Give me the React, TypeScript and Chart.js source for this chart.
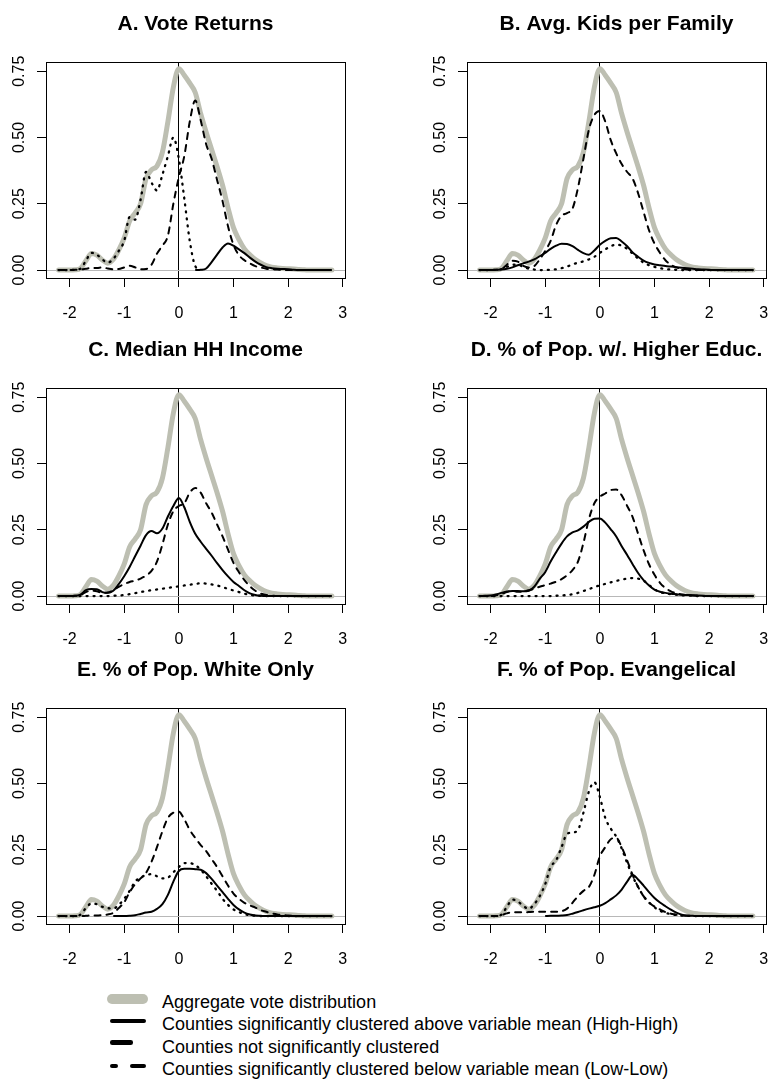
import React, { useEffect, useRef } from "react";
import { Chart, registerables } from "chart.js";

Chart.register(...registerables);

// ---------- data ----------
const X_GRID = [
  -2.2, -2.1, -2.0, -1.9, -1.8, -1.7, -1.6, -1.5, -1.4, -1.3,
  -1.2, -1.1, -1.0, -0.9, -0.8, -0.7, -0.6, -0.5, -0.4, -0.3,
  -0.2, -0.1, 0.0, 0.1, 0.2, 0.3, 0.4, 0.5, 0.6, 0.7,
  0.8, 0.9, 1.0, 1.1, 1.2, 1.3, 1.4, 1.5, 1.6, 1.7,
  1.8, 1.9, 2.0, 2.1, 2.2, 2.3, 2.4, 2.5, 2.6, 2.7,
  2.8,
];

const AGGREGATE = [
  0, 0, 0, 0.001, 0.006, 0.035, 0.062, 0.056, 0.038, 0.026,
  0.04, 0.075, 0.12, 0.185, 0.215, 0.25, 0.345, 0.378, 0.392, 0.445,
  0.56, 0.69, 0.76, 0.735, 0.705, 0.67, 0.59, 0.52, 0.455, 0.39,
  0.32, 0.235, 0.16, 0.115, 0.08, 0.058, 0.04, 0.027, 0.017, 0.011,
  0.008, 0.006, 0.005, 0.004, 0.002, 0.001, 0, 0, 0, 0,
  0,
];

// A. Vote Returns
const A_HIGH = [
  null, null, null, null, null, null, null, null, null, null,
  null, null, null, null, null, null, null, null, null, null,
  null, null, null, null, null, 0, 0.001, 0.006, 0.03, 0.058,
  0.085, 0.1, 0.092, 0.078, 0.064, 0.047, 0.032, 0.02, 0.011, 0.007,
  0.005, 0.004, 0.003, 0.001, 0, 0, 0, 0, 0, 0,
  0,
];
const A_NOT = [
  0, 0, 0, 0.001, 0.002, 0.005, 0.008, 0.008, 0.01, 0.006,
  0.003, 0.004, 0.01, 0.016, 0.01, 0.003, 0.004, 0.02, 0.062, 0.092,
  0.13, 0.25, 0.35, 0.43, 0.56, 0.64, 0.565, 0.475, 0.42, 0.34,
  0.26, 0.165, 0.095, 0.056, 0.037, 0.025, 0.015, 0.01, 0.005, 0.003,
  0.002, 0, 0, 0, 0, 0, 0, 0, 0, 0,
  0,
];
const A_LOW = [
  0, 0, 0, 0.001, 0.005, 0.035, 0.065, 0.058, 0.04, 0.028,
  0.042, 0.072, 0.11, 0.2, 0.19, 0.265, 0.37, 0.33, 0.3, 0.36,
  0.43, 0.5, 0.42, 0.27, 0.11, 0.015, 0, null, null, null,
  null, null, null, null, null, null, null, null, null, null,
  null, null, null, null, null, null, null, null, null, null,
  null,
];

// B. Avg. Kids per Family
const B_HIGH = [
  0, 0, 0, 0.001, 0.002, 0.005, 0.01, 0.018, 0.025, 0.032,
  0.04, 0.052, 0.065, 0.08, 0.092, 0.099, 0.098, 0.09, 0.076, 0.064,
  0.058, 0.074, 0.095, 0.11, 0.12, 0.121, 0.108, 0.09, 0.066, 0.05,
  0.036, 0.027, 0.021, 0.018, 0.015, 0.013, 0.011, 0.009, 0.007, 0.005,
  0.003, 0.002, 0.001, 0, 0, 0, 0, 0, 0, 0,
  0,
];
const B_NOT = [
  0, 0, 0, 0.001, 0.004, 0.02, 0.035, 0.032, 0.016, 0.01,
  0.015, 0.04, 0.072, 0.11, 0.17, 0.205, 0.215, 0.232, 0.31, 0.42,
  0.53, 0.585, 0.6, 0.56, 0.49, 0.44, 0.4, 0.37, 0.345, 0.29,
  0.22, 0.15, 0.1, 0.065, 0.037, 0.02, 0.01, 0.005, 0.002, 0.001,
  0, 0, 0, 0, 0, 0, 0, 0, 0, 0,
  0,
];
const B_LOW = [
  0, 0, 0, 0.001, 0.003, 0.012, 0.02, 0.02, 0.012, 0.005,
  0.002, 0, 0, 0.001, 0.003, 0.007, 0.013, 0.021, 0.028, 0.033,
  0.04, 0.05, 0.065, 0.078, 0.09, 0.096, 0.092, 0.08, 0.062, 0.043,
  0.028, 0.018, 0.012, 0.007, 0.004, 0.002, 0.001, 0, 0, 0,
  0, 0, 0, 0, 0, 0, 0, 0, 0, 0,
  0,
];

// C. Median HH Income
const C_HIGH = [
  0, 0, 0, 0.001, 0.005, 0.022, 0.027, 0.026, 0.015, 0.012,
  0.02, 0.045, 0.075, 0.11, 0.15, 0.19, 0.23, 0.245, 0.237, 0.255,
  0.3, 0.34, 0.37, 0.335, 0.28, 0.235, 0.205, 0.178, 0.152, 0.124,
  0.098, 0.074, 0.053, 0.038, 0.022, 0.01, 0.004, 0.001, 0, 0,
  0, 0, 0, 0, 0, 0, 0, 0, 0, 0,
  0,
];
const C_NOT = [
  0, 0, 0, 0.001, 0.004, 0.015, 0.02, 0.018, 0.012, 0.013,
  0.022, 0.035, 0.045, 0.053, 0.058, 0.066, 0.077, 0.095, 0.13, 0.195,
  0.27, 0.32, 0.34, 0.35, 0.39, 0.408, 0.39, 0.35, 0.315, 0.27,
  0.225, 0.175, 0.125, 0.09, 0.06, 0.037, 0.02, 0.009, 0.004, 0.002,
  0, 0, 0, 0, 0, 0, 0, 0, 0, 0,
  0,
];
const C_LOW = [
  0, 0, 0, 0, 0, 0, 0, 0, 0, 0,
  0.001, 0.002, 0.004, 0.007, 0.011, 0.015, 0.019, 0.022, 0.025, 0.028,
  0.031, 0.034, 0.037, 0.04, 0.043, 0.046, 0.048, 0.047, 0.044, 0.04,
  0.034, 0.027, 0.021, 0.015, 0.009, 0.005, 0.002, 0.001, 0, 0,
  0, 0, 0, 0, 0, 0, 0, 0, 0, 0,
  0,
];

// D. % of Pop. w/. Higher Educ.
const D_HIGH = [
  0, 0.001, 0.002, 0.006, 0.012, 0.017, 0.019, 0.019, 0.018, 0.02,
  0.035, 0.065, 0.09, 0.13, 0.165, 0.198, 0.225, 0.24, 0.248, 0.262,
  0.28, 0.292, 0.293, 0.277, 0.252, 0.225, 0.188, 0.155, 0.12, 0.087,
  0.06, 0.04, 0.024, 0.016, 0.012, 0.009, 0.007, 0.005, 0.004, 0.003,
  0.002, 0.001, 0, 0, 0, 0, 0, 0, 0, 0,
  0,
];
const D_NOT = [
  0, 0, 0, 0.003, 0.008, 0.015, 0.02, 0.016, 0.017, 0.022,
  0.028, 0.035, 0.041, 0.047, 0.054, 0.064, 0.078, 0.098, 0.13, 0.2,
  0.29, 0.35, 0.375, 0.387, 0.4, 0.402, 0.38, 0.34, 0.298, 0.235,
  0.173, 0.12, 0.08, 0.05, 0.03, 0.018, 0.01, 0.006, 0.003, 0.002,
  0.001, 0, 0, 0, 0, 0, 0, 0, 0, 0,
  0,
];
const D_LOW = [
  0, 0, 0, 0, 0, 0, 0, 0, 0, 0,
  0, 0, 0, 0, 0.001, 0.002, 0.004, 0.007, 0.012, 0.019,
  0.026, 0.034, 0.04, 0.046, 0.052, 0.057, 0.062, 0.066, 0.068, 0.066,
  0.058, 0.042, 0.025, 0.015, 0.01, 0.007, 0.005, 0.003, 0.002, 0.001,
  0, 0, 0, 0, 0, 0, 0, 0, 0, 0,
  0,
];

// E. % of Pop. White Only
const E_HIGH = [
  null, null, null, null, null, null, null, null, null, null,
  0, 0, 0, 0.001, 0.003, 0.008, 0.013, 0.016, 0.027, 0.045,
  0.08, 0.13, 0.17, 0.178, 0.178, 0.177, 0.175, 0.162, 0.14, 0.115,
  0.09, 0.065, 0.042, 0.025, 0.013, 0.006, 0.002, 0.001, 0, 0,
  0, 0, 0, 0, 0, 0, 0, 0, 0, 0,
  0,
];
const E_NOT = [
  0, 0, 0, 0, 0, 0.001, 0.002, 0.002, 0.004, 0.006,
  0.012, 0.03, 0.052, 0.09, 0.12, 0.142, 0.163, 0.205, 0.26, 0.32,
  0.37, 0.39, 0.394, 0.365, 0.325, 0.295, 0.268, 0.245, 0.215, 0.185,
  0.15, 0.115, 0.085, 0.065, 0.05, 0.04, 0.032, 0.022, 0.016, 0.01,
  0.006, 0.004, 0.002, 0.001, 0, 0, 0, 0, 0, 0,
  0,
];
const E_LOW = [
  0, 0, 0, 0, 0.005, 0.03, 0.047, 0.045, 0.035, 0.03,
  0.028, 0.042, 0.065, 0.095, 0.13, 0.145, 0.155, 0.158, 0.15, 0.142,
  0.145, 0.165, 0.185, 0.2, 0.2, 0.192, 0.175, 0.15, 0.122, 0.095,
  0.065, 0.042, 0.025, 0.015, 0.007, 0.003, 0.001, 0, 0, 0,
  0, 0, 0, 0, 0, 0, 0, 0, 0, 0,
  0,
];

// F. % of Pop. Evangelical
const F_HIGH = [
  null, null, null, null, null, null, null, null, null, null,
  null, null, 0, 0.001, 0.001, 0.002, 0.004, 0.009, 0.015, 0.022,
  0.028, 0.033, 0.039, 0.049, 0.063, 0.078, 0.1, 0.13, 0.155, 0.138,
  0.115, 0.09, 0.068, 0.051, 0.037, 0.024, 0.013, 0.005, 0.002, 0.001,
  0, 0, 0, 0, 0, 0, 0, 0, 0, 0,
  0,
];
const F_NOT = [
  0, 0, 0, 0, 0.004, 0.01, 0.014, 0.014, 0.014, 0.015,
  0.016, 0.016, 0.016, 0.016, 0.016, 0.018, 0.028, 0.05, 0.075, 0.095,
  0.11, 0.155, 0.225, 0.26, 0.29, 0.295, 0.26, 0.21, 0.155, 0.11,
  0.075, 0.05, 0.036, 0.025, 0.015, 0.009, 0.005, 0.003, 0.001, 0,
  0, 0, 0, 0, 0, 0, 0, 0, 0, 0,
  0,
];
const F_LOW = [
  0, 0, 0, 0, 0.005, 0.035, 0.062, 0.055, 0.038, 0.027,
  0.045, 0.075, 0.12, 0.185, 0.21, 0.26, 0.31, 0.315, 0.325, 0.39,
  0.47, 0.505, 0.45, 0.37, 0.33, 0.3, 0.255, 0.2, 0.15, 0.11,
  0.075, 0.052, 0.033, 0.02, 0.012, 0.007, 0.004, 0.002, 0.001, 0,
  0, 0, 0, 0, 0, 0, 0, 0, 0, 0,
  0,
];

const PANEL_TITLES = [
  "A. Vote Returns",
  "B. Avg. Kids per Family",
  "C. Median HH Income",
  "D. % of Pop. w/. Higher Educ.",
  "E. % of Pop. White Only",
  "F. % of Pop. Evangelical",
];

const X_TICKS = [-2, -1, 0, 1, 2, 3];
const Y_TICKS = [0, 0.25, 0.5, 0.75];
const Y_TICK_LABELS = ["0.00", "0.25", "0.50", "0.75"];

const LEGEND_LABELS = [
  "Aggregate vote distribution",
  "Counties significantly clustered above variable mean (High-High)",
  "Counties not significantly clustered",
  "Counties significantly clustered below variable mean (Low-Low)",
];

// ---------- styling ----------
const GRAY = "rgb(189,191,178)";
const FONT = "'Liberation Sans', Arial, Helvetica, sans-serif";
const CANVAS_W = 349;
const CANVAS_H = 322;

const toPoints = (ys: (number | null)[]) => X_GRID.map((x, i) => ({ x, y: ys[i] }));

const boxPlugin = {
  id: "plotBox",
  afterDraw(chart: any) {
    const { ctx, chartArea } = chart;
    const l = Math.round(chartArea.left) + 0.5;
    const t = Math.round(chartArea.top) + 0.5;
    const r = Math.round(chartArea.right) + 0.5;
    const b = Math.round(chartArea.bottom) + 0.5;
    ctx.save();
    ctx.strokeStyle = "#000";
    ctx.lineWidth = 1;
    ctx.strokeRect(l, t, r - l, b - t);
    ctx.restore();
  },
};

type PanelProps = {
  title: string;
  high: (number | null)[];
  notSig: (number | null)[];
  low: (number | null)[];
  left: number;
  top: number;
};

function Panel({ title, high, notSig, low, left, top }: PanelProps) {
  const ref = useRef<HTMLCanvasElement | null>(null);
  useEffect(() => {
    if (!ref.current) return;
    const chart = new Chart(ref.current, {
      type: "line",
      data: {
        datasets: [
          {
            label: "High-High",
            data: toPoints(high),
            borderColor: "#000",
            borderWidth: 2,
            order: 1,
          },
          {
            label: "Not significant",
            data: toPoints(notSig),
            borderColor: "#000",
            borderWidth: 2,
            borderDash: [6, 6],
            borderCapStyle: "round",
            order: 2,
          },
          {
            label: "Low-Low",
            data: toPoints(low),
            borderColor: "#000",
            borderWidth: 2.3,
            borderDash: [1, 6],
            borderCapStyle: "round",
            order: 3,
          },
          {
            label: "Aggregate",
            data: toPoints(AGGREGATE),
            borderColor: GRAY,
            borderWidth: 5,
            borderCapStyle: "round",
            order: 4,
          },
        ] as any,
      },
      options: {
        animation: false,
        responsive: false,
        maintainAspectRatio: false,
        events: [],
        layout: { padding: { left: 0, right: 4, top: 0, bottom: 0 } },
        elements: {
          point: { radius: 0 },
          line: {
            cubicInterpolationMode: "monotone",
            borderJoinStyle: "round",
            fill: false,
          },
        },
        plugins: {
          legend: { display: false },
          tooltip: { enabled: false },
          title: {
            display: true,
            text: title,
            fullSize: false,
            color: "#000",
            font: { family: FONT, size: 21, weight: "bold", lineHeight: 1.2 },
            padding: { top: 12, bottom: 24.8 },
          },
        },
        scales: {
          x: {
            type: "linear",
            min: -2.43,
            max: 3.04,
            afterBuildTicks: (s: any) => {
              s.ticks = X_TICKS.map((v) => ({ value: v }));
            },
            afterFit: (s: any) => {
              s.height = CANVAS_H - 278;
              s.paddingLeft = 0;
              s.paddingRight = 0;
              s.paddingTop = 0;
              s.paddingBottom = 0;
            },
            grid: {
              drawOnChartArea: true,
              color: (c: any) => (c.tick && c.tick.value === 0 ? "#000" : "rgba(0,0,0,0)"),
              tickColor: "#000",
              tickLength: 9,
              lineWidth: 1,
            },
            border: { display: false },
            ticks: {
              color: "#000",
              font: { family: FONT, size: 16 },
              padding: 17,
              minRotation: 0,
              maxRotation: 0,
              autoSkip: false,
              callback: (v: any) => String(v),
            },
          },
          y: {
            type: "linear",
            min: -0.03,
            max: 0.785,
            afterBuildTicks: (s: any) => {
              s.ticks = Y_TICKS.map((v) => ({ value: v }));
            },
            afterFit: (s: any) => {
              s.width = 46;
              s.paddingLeft = 0;
              s.paddingRight = 0;
              s.paddingTop = 0;
              s.paddingBottom = 0;
            },
            grid: {
              drawOnChartArea: true,
              color: (c: any) => (c.tick && c.tick.value === 0 ? "#b8b8b8" : "rgba(0,0,0,0)"),
              tickColor: "#000",
              tickLength: 9,
              lineWidth: 1,
            },
            border: { display: false },
            ticks: {
              color: "#000",
              font: { family: FONT, size: 16 },
              padding: 2,
              minRotation: 90,
              maxRotation: 90,
              crossAlign: "center",
              autoSkip: false,
              callback: (_v: any, i: number) => Y_TICK_LABELS[i],
            },
          },
        },
      } as any,
      plugins: [boxPlugin],
    });
    return () => chart.destroy();
  }, [title, high, notSig, low]);

  return (
    <canvas
      ref={ref}
      width={CANVAS_W}
      height={CANVAS_H}
      style={{ position: "absolute", left, top, width: CANVAS_W, height: CANVAS_H }}
    />
  );
}

const PANELS = [
  { high: A_HIGH, notSig: A_NOT, low: A_LOW },
  { high: B_HIGH, notSig: B_NOT, low: B_LOW },
  { high: C_HIGH, notSig: C_NOT, low: C_LOW },
  { high: D_HIGH, notSig: D_NOT, low: D_LOW },
  { high: E_HIGH, notSig: E_NOT, low: E_LOW },
  { high: F_HIGH, notSig: F_NOT, low: F_LOW },
];
const COL_LEFT = [0, 421];
const ROW_TOP = [0, 326, 646];

function Legend() {
  const bar = (left: number, width: number, cy: number, h: number, color: string) => (
    <div
      style={{
        position: "absolute",
        left,
        top: cy - h / 2,
        width,
        height: h,
        borderRadius: h / 2,
        background: color,
      }}
    />
  );
  return (
    <>
      {bar(107, 41, 999, 10, GRAY)}
      {bar(110, 36, 1021, 4.5, "#000")}
      {bar(110, 23, 1042.5, 4.5, "#000")}
      {bar(110, 7.5, 1066, 4.5, "#000")}
      {bar(130, 16, 1066, 4.5, "#000")}
      <div
        style={{
          position: "absolute",
          left: 162,
          top: 991,
          fontFamily: FONT,
          fontSize: 18,
          lineHeight: "22.3px",
          color: "#000",
          whiteSpace: "nowrap",
        }}
      >
        {LEGEND_LABELS.map((t) => (
          <div key={t}>{t}</div>
        ))}
      </div>
    </>
  );
}

export default function App() {
  return (
    <div
      style={{
        position: "fixed",
        left: 0,
        top: 0,
        width: 770,
        height: 1080,
        background: "#fff",
        overflow: "hidden",
      }}
    >
      {PANELS.map((p, i) => (
        <Panel
          key={PANEL_TITLES[i]}
          title={PANEL_TITLES[i]}
          high={p.high}
          notSig={p.notSig}
          low={p.low}
          left={COL_LEFT[i % 2]}
          top={ROW_TOP[Math.floor(i / 2)]}
        />
      ))}
      <Legend />
    </div>
  );
}
